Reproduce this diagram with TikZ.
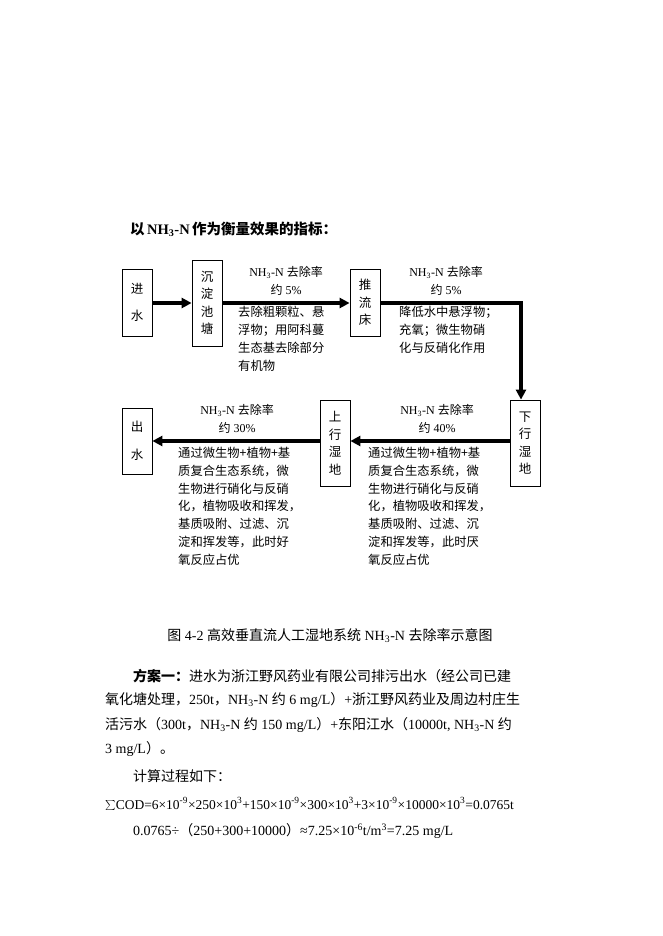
\documentclass[tikz,border=0pt]{standalone}
\usepackage{fontspec}
\setmainfont{Liberation Serif}
\newfontfamily\zh{Noto Sans CJK SC}
\usetikzlibrary{arrows.meta}
\tikzset{
 box/.style={draw,line width=0.8pt,minimum width=30pt,inner sep=0pt,font=\zh\fontsize{12.5}{17.5}\selectfont,align=center},
 flow/.style={line width=3.2pt,-{Triangle[length=10pt,width=10pt]}},
 lab/.style={font=\fontsize{12}{18}\selectfont,align=center,inner sep=0pt},
 desc/.style={font=\zh\fontsize{12.3}{17.8}\selectfont,align=left,anchor=north west,inner sep=0pt},
 para/.style={font=\fontsize{14}{24.5}\selectfont,anchor=west,inner sep=0pt}
}
\newcommand{\nh}{NH\textsubscript{3}-N}
\begin{document}
\begin{tikzpicture}[x=1pt,y=-1pt]
\useasboundingbox[fill=white] (0,0) rectangle (662,936);
\node[anchor=west,inner sep=0pt,font=\bfseries\fontsize{14.5}{16}\selectfont] (title) at (130,229) {{\zh\bfseries 以}\,\nh\,{\zh\bfseries 作为衡量效果的指标：}};
\node[box,minimum height=67pt] (in) at (137,302.5) {进\\[10pt]水};
\node[box,minimum height=86pt] (sed) at (207,303) {沉\\淀\\池\\塘};
\node[box,minimum height=67pt] (pf) at (365,302.5) {推\\流\\床};
\node[box,minimum height=86pt] (down) at (525,443) {下\\行\\湿\\地};
\node[box,minimum height=86pt] (up) at (335,443) {上\\行\\湿\\地};
\node[box,minimum height=66pt] (out) at (137,441) {出\\[10pt]水};
\coordinate (corner) at (521,303);
\draw[flow] (in.east|-0,303) -- (sed.west|-0,303);
\draw[flow] (sed.east|-0,303) -- (pf.west|-0,303);
\draw[flow] (pf.east|-0,303) -- (corner) -- (corner|-down.north);
\draw[flow] (down.west|-0,441) -- (up.east|-0,441);
\draw[flow] (up.west|-0,441) -- (out.east|-0,441);
\node[lab] (l1) at (286,281) {NH\textsubscript{3}-N {\zh 去除率}\\{\zh 约} 5\%};
\node[lab] (l2) at (446,281) {NH\textsubscript{3}-N {\zh 去除率}\\{\zh 约} 5\%};
\node[lab] (l3) at (237,419) {NH\textsubscript{3}-N {\zh 去除率}\\{\zh 约} 30\%};
\node[lab] (l4) at (437,419) {NH\textsubscript{3}-N {\zh 去除率}\\{\zh 约} 40\%};
\node[desc] (d1) at (238,306) {去除粗颗粒、悬\\浮物；用阿科蔓\\生态基去除部分\\有机物};
\node[desc] (d2) at (399,306) {降低水中悬浮物；\\充氧；微生物硝\\化与反硝化作用};
\node[desc] (d3) at (178,447) {通过微生物+植物+基\\质复合生态系统，微\\生物进行硝化与反硝\\化，植物吸收和挥发，\\基质吸附、过滤、沉\\淀和挥发等，此时好\\氧反应占优};
\node[desc] (d4) at (368,447) {通过微生物+植物+基\\质复合生态系统，微\\生物进行硝化与反硝\\化，植物吸收和挥发，\\基质吸附、过滤、沉\\淀和挥发等，此时厌\\氧反应占优};
\node[inner sep=0pt,font=\fontsize{14}{16}\selectfont] (cap) at (330,636) {{\zh 图} 4-2 {\zh 高效垂直流人工湿地系统} \nh\ {\zh 去除率示意图}};
\node[para] (p1) at (133,676) {{\zh\bfseries 方案一：}{\zh 进水为浙江野风药业有限公司排污出水（经公司已建}};
\node[para] (p2) at (105,700) {{\zh 氧化塘处理，}250t{\zh ，}\nh\ {\zh 约} 6 mg/L{\zh ）}+{\zh 浙江野风药业及周边村庄生}};
\node[para] (p3) at (105,725) {{\zh 活污水（}300t{\zh ，}\nh\ {\zh 约} 150 mg/L{\zh ）}+{\zh 东阳江水（}10000t, \nh\ {\zh 约}};
\node[para] (p4) at (105,749) {3 mg/L{\zh ）。}};
\node[para] (p5) at (133,776) {\zh 计算过程如下：};
\node[para,font=\fontsize{13.5}{16}\selectfont] (p6) at (105,804) {$\sum$COD=6×10\textsuperscript{-9}×250×10\textsuperscript{3}+150×10\textsuperscript{-9}×300×10\textsuperscript{3}+3×10\textsuperscript{-9}×10000×10\textsuperscript{3}=0.0765t};
\node[para] (p7) at (133,831) {0.0765÷{\zh （}250+300+10000{\zh ）}≈7.25×10\textsuperscript{-6}t/m\textsuperscript{3}=7.25 mg/L};
\end{tikzpicture}
\end{document}
